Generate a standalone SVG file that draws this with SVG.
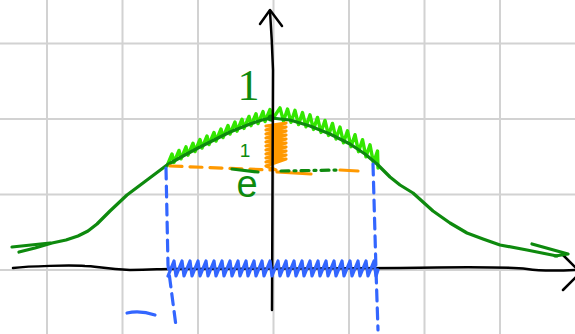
<svg xmlns="http://www.w3.org/2000/svg" width="575" height="334" viewBox="0 0 575 334">
<style>
.grid{stroke:#d2d2d2;stroke-width:2;fill:none}
.ax{stroke:#000;stroke-width:2.5;fill:none;stroke-linecap:round;stroke-linejoin:round}
.dg{stroke:#0e8a0e;stroke-width:3.2;fill:none;stroke-linecap:round;stroke-linejoin:round}
.lg{stroke:#33e600;stroke-width:3.4;fill:none;stroke-linecap:round;stroke-linejoin:round}
.or{stroke:#ff9900;stroke-width:3.2;fill:none;stroke-linecap:round;stroke-linejoin:round}
.bl{stroke:#3366ff;stroke-width:3.2;fill:none;stroke-linecap:round;stroke-linejoin:round}
.txt{fill:#0e8a0e}
</style>
<rect width="575" height="334" fill="#fff"/>
<g id="grid" class="grid">
<path d="M47,0V334 M122.5,0V334 M198,0V334 M273.5,0V334 M349,0V334 M424.5,0V334 M500,0V334 M0,43.5H575 M0,119H575 M0,194.5H575 M0,270H575"/>
</g>
<g id="x-axis" class="ax">
<path d="M13,268 C30,266 70,265 85,266 C95,266 105,269 130,270 C150,270 160,269 170,269 L400,268 C450,267 500,266 527,269 C540,271 555,271 575,270"/>
<path d="M563,255 L576,268 M563,290 L576,277"/>
</g>
<g id="hatch-top" class="lg">
<path d="M167,166 L172,154 L174,162.4 L179,150.4 L181,158.8 L186,146.8 L188,155.2 L193,143.2 L195,151.5 L200,139.5 L202,148 L207,136 L209,144.5 L214,132.5 L216,141 L221,129 L223,137.5 L228,125.5 L230,134 L235,122 L237,131.2 L242,119.2 L244,128.4 L249,116.4 L251,125.7 L256,113.7 L258,123.6 L263,111.6 L265,121.5 L270,109.5 L272,120 L280,107.9 L283.5,121 L287.5,109 L291,122.3 L295,110.3 L298.5,124.6 L302.5,112.6 L306,126.8 L310,114.8 L313.5,129.4 L317.5,117.4 L321,132.4 L325,120.4 L328.5,135.4 L332.5,123.4 L336,139 L340,127 L343.5,142.8 L347.5,130.8 L351,146.7 L355,134.7 L358.5,151.7 L362.5,139.7 L366,156.8 L370,144.8 L373.5,163.1 L377.5,151.1 L378,168"/>
</g>
<g id="curve" class="dg">
<path d="M12,247 L50,243"/>
<path d="M19,252 L35,248 L52,243 L66,240 L78,236 L88,231 L97,224 L110,211 L127,195 L147,180 L167,165 L183,156 L198,148 L214,140 L230,132 L250,124 L262,120 L271,118 L290,120 L310,126 L330,134 L350,144 L365,154 L377,164 L390,177 L400,185 L413,193 L423,202 L433,211 L450,223 L467,233 L483,239 L500,245 L527,250 L542,253 L557,256"/>
<path d="M532,244 L568,254 L555,256"/>
<circle cx="271" cy="118" r="3.5" fill="#0e8a0e" stroke="none"/>
</g>
<g id="orange" class="or">
<path d="M266,126 l20,-3 l-20,7 l20,-3 l-20,7 l20,-3 l-20,7 l20,-3 l-20,7 l20,-3 l-20,7 l20,-3 l-20,7 l20,-3 l-20,7 l20,-3 l-20,7 l20,-3 l-20,7 l20,-3 l-20,7 L276,170"/>
<path d="M170,166 L272,170" stroke-dasharray="12 8"/>
<path d="M277,172 L311,174 M340,170 L358,171"/>
</g>
<path d="M281,171 L338,170" class="dg" stroke-width="2.5" stroke-dasharray="8 5 2 5"/>
<g id="y-axis" class="ax">
<path d="M272,310 L273,70 Q272,40 270,11"/>
<path d="M260,24 L270,10 L282,26"/>
</g>
<g id="labels" class="txt">
<text x="248.5" y="100" font-family="Liberation Serif, serif" font-size="44" text-anchor="middle">1</text>
<text x="245" y="157" font-family="Liberation Sans, sans-serif" font-size="19" text-anchor="middle">1</text>
<path d="M232,169 L258,172" class="dg" stroke-width="2.5"/>
<text x="247" y="197" font-family="Liberation Sans, sans-serif" font-size="38" text-anchor="middle">e</text>
</g>
<g id="blue" class="bl">
<path d="M166,168 L168,265 L176,326" stroke-dasharray="11 7"/>
<path d="M373,164 L376,270 L378,330" stroke-dasharray="11 7"/>
<path d="M168,276 l6,-15 l2,15 l6,-15 l2,15 l6,-15 l2,15 l6,-15 l2,15 l6,-15 l2,15 l6,-15 l2,15 l6,-15 l2,15 l6,-15 l2,15 l6,-15 l2,15 l6,-15 l2,15 l6,-15 l2,15 l6,-15 l2,15 l6,-15 l2,15 l6,-15 l2,15 l6,-15 l2,15 l6,-15 l2,15 l6,-15 l2,15 l6,-15 l2,15 l6,-15 l2,15 l6,-15 l2,15 l6,-15 l2,15 l6,-15 l2,15 l6,-15 l2,15 l6,-15 l2,15 l6,-15 l2,15 l6,-15 l2,15 l2,-6"/>
<path d="M127,313 Q140,310 155,315"/>
</g>
</svg>
